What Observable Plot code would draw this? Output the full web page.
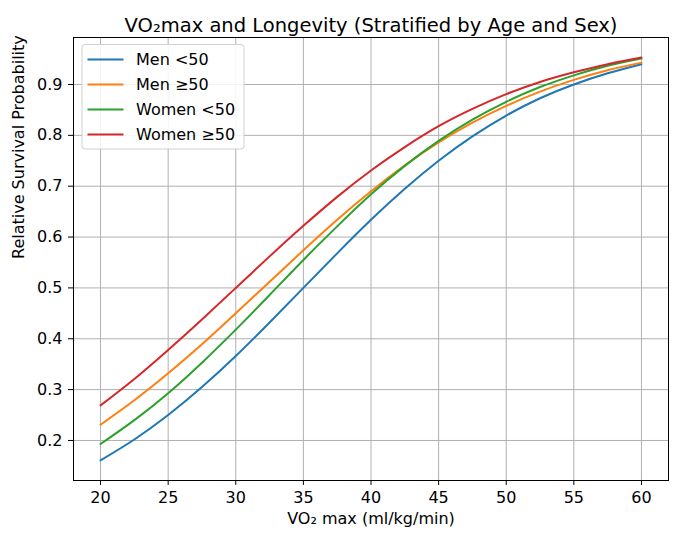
<!DOCTYPE html>
<html>
<head>
<meta charset="utf-8">
<script src="https://cdn.jsdelivr.net/npm/d3@7"></script>
<script src="https://cdn.jsdelivr.net/npm/@observablehq/plot@0.6"></script>
<style>
  html, body { margin: 0; padding: 0; background: #fff; }
  #chart svg { display: block; }
</style>
</head>
<body>
<div id="chart"></div>
<script>
// VO2 max values (ml/kg/min)
const vo2 = [20, 22.5, 25, 27.5, 30, 32.5, 35, 37.5, 40, 42.5, 45, 47.5, 50, 52.5, 55, 57.5, 60];

// Relative survival probability per group
const menUnder50   = [0.161, 0.202, 0.250, 0.305, 0.366, 0.432, 0.500, 0.568, 0.634, 0.695, 0.750, 0.798, 0.839, 0.873, 0.900, 0.922, 0.940];
const menOver50    = [0.231, 0.279, 0.332, 0.389, 0.450, 0.512, 0.574, 0.634, 0.690, 0.741, 0.786, 0.825, 0.858, 0.886, 0.909, 0.928, 0.943];
const womenUnder50 = [0.193, 0.240, 0.293, 0.353, 0.418, 0.486, 0.555, 0.621, 0.684, 0.740, 0.789, 0.831, 0.866, 0.895, 0.918, 0.937, 0.951];
const womenOver50  = [0.269, 0.321, 0.378, 0.438, 0.500, 0.562, 0.622, 0.679, 0.731, 0.777, 0.818, 0.852, 0.881, 0.905, 0.924, 0.940, 0.953];

const groups = ["Men <50", "Men ≥50", "Women <50", "Women ≥50"];
const colors = ["#1f77b4", "#ff7f0e", "#2ca02c", "#d62728"];
const seriesValues = [menUnder50, menOver50, womenUnder50, womenOver50];

const xTicks = [20, 25, 30, 35, 40, 45, 50, 55, 60];
const yTicks = [0.2, 0.3, 0.4, 0.5, 0.6, 0.7, 0.8, 0.9];

const titleText = "VO₂max and Longevity (Stratified by Age and Sex)";
const xLabel = "VO₂ max (ml/kg/min)";
const yLabel = "Relative Survival Probability";

const rows = [];
groups.forEach((g, gi) => {
  vo2.forEach((v, i) => rows.push({group: g, vo2: v, p: seriesValues[gi][i]}));
});

const font = "'DejaVu Sans', sans-serif";
const fs = 16;

const chart = Plot.plot({
  width: 680,
  height: 544,
  marginLeft: 73,
  marginRight: 12,
  marginTop: 37,
  marginBottom: 64,
  style: {fontFamily: font, fontSize: fs + "px", color: "#000", background: "#fff"},
  x: {domain: [18, 62]},
  y: {domain: [0.1213, 0.9924]},
  color: {domain: groups, range: colors},
  marks: [
    Plot.gridX(xTicks, {stroke: "#b0b0b0", strokeOpacity: 1, strokeWidth: 1}),
    Plot.gridY(yTicks, {stroke: "#b0b0b0", strokeOpacity: 1, strokeWidth: 1}),
    Plot.line(rows, {x: "vo2", y: "p", stroke: "group", z: "group", strokeWidth: 2, curve: "natural"}),
    Plot.frame({stroke: "#000", strokeWidth: 1}),
    Plot.axisX(xTicks, {tickSize: 5, tickPadding: 6, label: null, fontSize: fs}),
    Plot.axisY(yTicks, {tickSize: 5, tickPadding: 6, label: null, tickFormat: d3.format(".1f"), fontSize: fs}),
    Plot.text([titleText], {frameAnchor: "top", dy: -19, fontSize: 19.5, fill: "#000"}),
    Plot.text([xLabel], {frameAnchor: "bottom", dy: 43, fontSize: fs, fill: "#000"}),
    Plot.text([yLabel], {frameAnchor: "left", dx: -55, rotate: -90, fontSize: fs, fill: "#000"})
  ]
});

document.getElementById("chart").appendChild(chart);

// Legend drawn inside the SVG
const svg = d3.select(chart);
const lg = svg.append("g").attr("font-family", font).attr("font-size", fs).attr("text-anchor", "start");
lg.append("rect")
  .attr("x", 82).attr("y", 44.5).attr("width", 162).attr("height", 104.5)
  .attr("rx", 3).attr("fill", "#fff").attr("fill-opacity", 0.85)
  .attr("stroke", "#d0d0d0").attr("stroke-width", 1);
groups.forEach((g, i) => {
  const yy = 59.5 + i * 25;
  lg.append("line").attr("x1", 87.5).attr("x2", 123.5).attr("y1", yy).attr("y2", yy)
    .attr("stroke", colors[i]).attr("stroke-width", 2);
  lg.append("text").attr("x", 136).attr("y", yy).attr("dy", "0.36em").attr("fill", "#000")
    .attr("text-anchor", "start").text(g);
});
</script>
</body>
</html>
